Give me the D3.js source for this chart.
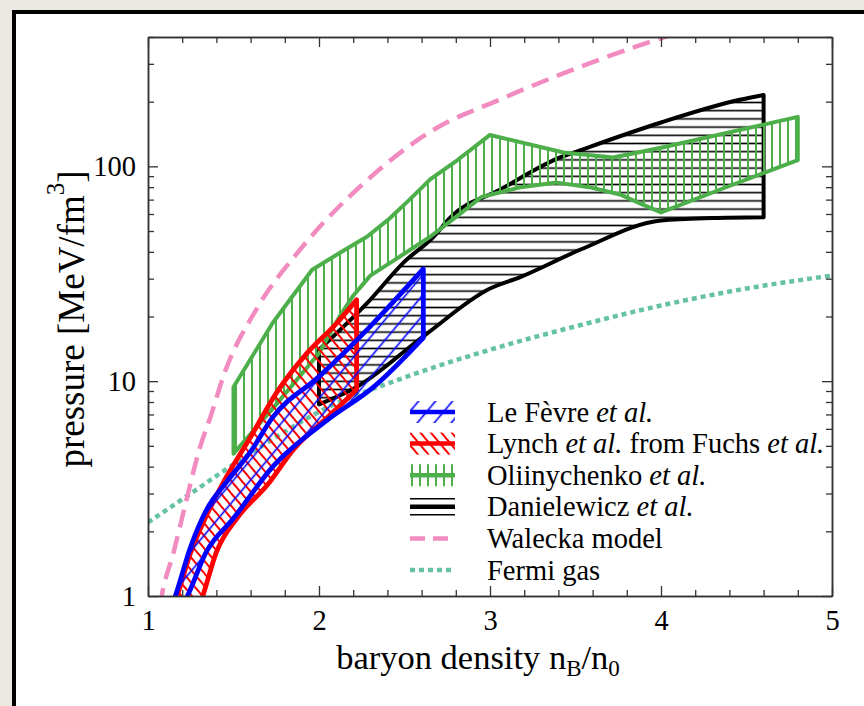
<!DOCTYPE html>
<html>
<head>
<meta charset="utf-8">
<script src="https://cdn.jsdelivr.net/npm/d3@7"></script>
<style>
  html, body { margin: 0; padding: 0; background: #ece8e1; }
  svg { display: block; }
  text { font-family: "Liberation Serif", "Times New Roman", serif; fill: #000; }
</style>
</head>
<body>
<div class="canvas"></div>
<script>
// ---- data: [n_B/n_0, pressure MeV/fm^3] ----
const leFevreUpper = [[1.14, 0.9], [1.16, 1], [1.25, 1.7], [1.34, 2.5], [1.46, 3.4], [1.6, 4.7], [1.73, 6.8], [2.0, 10.5], [2.3, 18], [2.61, 33.3]];
const leFevreLower = [[1.2, 0.9], [1.23, 1], [1.34, 1.6], [1.5, 2.3], [1.73, 4.0], [2.05, 6.6], [2.32, 9.4], [2.61, 15.9]];

const lynchUpper = [[1.15, 0.9], [1.17, 1], [1.25, 1.6], [1.34, 2.35], [1.46, 3.6], [1.6, 5.5], [1.75, 8.8], [1.93, 13.5], [2.1, 18.5], [2.22, 23.9]];
const lynchLower = [[1.3, 0.9], [1.32, 1], [1.4, 1.6], [1.52, 2.3], [1.7, 3.3], [1.85, 4.8], [2.05, 6.8], [2.22, 9.1]];

const oliinUpper = [[1.5, 9.4], [1.73, 18.7], [1.96, 33], [2.12, 39.5], [2.28, 47], [2.4, 56], [2.53, 70], [2.65, 87], [2.81, 107], [3.0, 140], [3.43, 116], [3.72, 110], [4.0, 122], [4.8, 170]];
const oliinLower = [[1.5, 4.6], [1.75, 7.8], [2.0, 13.5], [2.12, 20], [2.2, 25], [2.3, 31], [2.45, 37], [2.65, 47], [2.8, 58], [2.95, 72], [3.18, 80], [3.39, 84], [3.58, 80], [3.76, 74], [3.88, 67], [4.0, 61], [4.4, 81], [4.8, 107]];

const danUpper = [[2.0, 14], [2.28, 23], [2.5, 36], [2.67, 47], [2.77, 58], [3.06, 78], [3.41, 110], [3.53, 119], [4.0, 160], [4.46, 204], [4.6, 215]];
const danLower = [[2.0, 7.8], [2.22, 9.4], [2.62, 16.4], [3.0, 27], [3.18, 30.6], [3.53, 41], [4.0, 56], [4.3, 57.5], [4.6, 58]];

const walecka = [[1.07, 0.9], [1.08, 1], [1.15, 1.6], [1.22, 2.7], [1.3, 4.8], [1.37, 7.0], [1.44, 10.5], [1.64, 22], [1.89, 41], [2.28, 86], [2.67, 148], [3.06, 205], [3.64, 314], [4.02, 400], [4.1, 420]];
const fermiGas = [[1.0, 2.2], [1.25, 3.0], [1.5, 4.1], [1.75, 5.5], [2.0, 7.2], [2.5, 10.4], [3.0, 14], [3.5, 18], [4.0, 22.5], [4.5, 27], [5.0, 31]];

const xTicks = [1, 2, 3, 4, 5];
const xMinor = [1.2, 1.4, 1.6, 1.8, 2.2, 2.4, 2.6, 2.8, 3.2, 3.4, 3.6, 3.8, 4.2, 4.4, 4.6, 4.8];
const yTicks = [1, 10, 100];
const yMinor = [2, 3, 4, 5, 6, 7, 8, 9, 20, 30, 40, 50, 60, 70, 80, 90, 200, 300, 400];

const legendLabels = [
  ["Le Fèvre ", "et al."],
  ["Lynch ", "et al.", " from Fuchs ", "et al."],
  ["Oliinychenko ", "et al."],
  ["Danielewicz ", "et al."],
  ["Walecka model"],
  ["Fermi gas"],
];

const W = 864, H = 706;
const plot = { left: 148, right: 832, top: 37, bottom: 596 };

const svg = d3.select(".canvas").append("svg").attr("width", W).attr("height", H);

// photo-frame style background
svg.append("rect").attr("width", W).attr("height", H).attr("fill", "#ece9e3");
svg.append("rect").attr("x", 14).attr("y", 12).attr("width", W + 20).attr("height", H + 20)
  .attr("fill", "#fff").attr("stroke", "#000").attr("stroke-width", 4);

const x = d3.scaleLinear().domain([1, 5]).range([plot.left, plot.right]);
const y = d3.scaleLog().domain([1, 400]).range([plot.bottom, plot.top]);

const defs = svg.append("defs");
defs.append("clipPath").attr("id", "plotClip").append("rect")
  .attr("x", plot.left).attr("y", plot.top)
  .attr("width", plot.right - plot.left).attr("height", plot.bottom - plot.top);

// hatch patterns
function hatch(id, color, gap, angle, width) {
  const p = defs.append("pattern").attr("id", id)
    .attr("patternUnits", "userSpaceOnUse")
    .attr("width", gap).attr("height", gap)
    .attr("patternTransform", `rotate(${angle})`);
  p.append("line").attr("x1", gap / 2).attr("y1", 0).attr("x2", gap / 2).attr("y2", gap)
    .attr("stroke", color).attr("stroke-width", width);
}
hatch("hBlack", "#000", 8.2, 90, 1.6);
hatch("hGreen", "#4daf4a", 8, 0, 2);
hatch("hRed", "#ff0000", 8, -40, 2);
hatch("hBlue", "#0000ff", 13, 40, 1.6);

const line = d3.line().x(d => x(d[0])).y(d => y(d[1]));
const smooth = d3.line().x(d => x(d[0])).y(d => y(d[1])).curve(d3.curveMonotoneX);

const graph = svg.append("g").attr("clip-path", "url(#plotClip)");

function band(upper, lower, color, pattern, gen, sw) {
  const path = gen(upper) + "L" + gen(lower.slice().reverse()).slice(1) + "Z";
  graph.append("path").attr("d", path).attr("fill", `url(#${pattern})`).attr("stroke", "none");
  graph.append("path").attr("d", path).attr("fill", "none")
    .attr("stroke", color).attr("stroke-width", sw).attr("stroke-linejoin", "round");
}

// Fermi gas under the bands
graph.append("path").datum(fermiGas).attr("d", smooth)
  .attr("fill", "none").attr("stroke", "#66c2a5").attr("stroke-width", 4.5)
  .attr("stroke-dasharray", "5,4");

band(danUpper, danLower, "#000", "hBlack", smooth, 4);
band(oliinUpper, oliinLower, "#4daf4a", "hGreen", line, 4);
band(lynchUpper, lynchLower, "#ff0000", "hRed", smooth, 4.8);
band(leFevreUpper, leFevreLower, "#0000ff", "hBlue", smooth, 4.8);

graph.append("path").datum(walecka).attr("d", smooth)
  .attr("fill", "none").attr("stroke", "#f28cc0").attr("stroke-width", 4.5)
  .attr("stroke-dasharray", "18,9");

// axes, ticks inward on all sides
const axisColor = "#333";
function styleAxis(g) {
  g.select(".domain").attr("stroke", axisColor).attr("stroke-width", 1.5);
  g.selectAll(".tick line").attr("stroke", axisColor).attr("stroke-width", 1.3);
  g.selectAll("text").attr("font-size", 28.5).attr("font-family", "Liberation Serif").attr("fill", "#000");
}

svg.append("g").attr("transform", `translate(0,${plot.bottom})`)
  .call(d3.axisBottom(x).tickValues(xMinor).tickSize(-6).tickSizeOuter(0).tickFormat(""))
  .call(styleAxis);
svg.append("g").attr("transform", `translate(0,${plot.bottom})`)
  .call(d3.axisBottom(x).tickValues(xTicks).tickSize(-10).tickSizeOuter(0).tickPadding(14).tickFormat(d3.format("d")))
  .call(styleAxis);
svg.append("g").attr("transform", `translate(0,${plot.top})`)
  .call(d3.axisTop(x).tickValues(xMinor).tickSize(-6).tickSizeOuter(0).tickFormat(""))
  .call(styleAxis);
svg.append("g").attr("transform", `translate(0,${plot.top})`)
  .call(d3.axisTop(x).tickValues(xTicks).tickSize(-10).tickSizeOuter(0).tickFormat(""))
  .call(styleAxis);

svg.append("g").attr("transform", `translate(${plot.left},0)`)
  .call(d3.axisLeft(y).tickValues(yMinor).tickSize(-6).tickSizeOuter(0).tickFormat(""))
  .call(styleAxis);
svg.append("g").attr("transform", `translate(${plot.left},0)`)
  .call(d3.axisLeft(y).tickValues(yTicks).tickSize(-10).tickSizeOuter(0).tickPadding(12).tickFormat(d3.format("d")))
  .call(styleAxis);
svg.append("g").attr("transform", `translate(${plot.right},0)`)
  .call(d3.axisRight(y).tickValues(yMinor).tickSize(-6).tickSizeOuter(0).tickFormat(""))
  .call(styleAxis);
svg.append("g").attr("transform", `translate(${plot.right},0)`)
  .call(d3.axisRight(y).tickValues(yTicks).tickSize(-10).tickSizeOuter(0).tickFormat(""))
  .call(styleAxis);

// axis titles
const xt = svg.append("text").attr("x", 478).attr("y", 669)
  .attr("text-anchor", "middle").attr("font-size", 34.5);
xt.append("tspan").text("baryon density n");
xt.append("tspan").attr("font-size", 23).attr("dy", 7).text("B");
xt.append("tspan").attr("dy", -7).text("/n");
xt.append("tspan").attr("font-size", 23).attr("dy", 7).text("0");

const yt = svg.append("text").attr("transform", `translate(84,319) rotate(-90)`)
  .attr("text-anchor", "middle").attr("font-size", 37);
yt.append("tspan").text("pressure [MeV/fm");
yt.append("tspan").attr("font-size", 25).attr("dy", -20).text("3");
yt.append("tspan").attr("dy", 20).text("]");

// legend
const legend = svg.append("g");
const rowY = d => 412 + d * 31.6;
const symX0 = 410, symX1 = 455;

function legendBox(i, pattern, color, kind) {
  const cy = rowY(i);
  if (pattern) {
    legend.append("rect").attr("x", symX0).attr("y", cy - 11).attr("width", symX1 - symX0).attr("height", 22)
      .attr("fill", `url(#${pattern})`);
  }
  legend.append("line").attr("x1", symX0).attr("x2", symX1).attr("y1", cy).attr("y2", cy)
    .attr("stroke", color).attr("stroke-width", 4.5)
    .attr("stroke-dasharray", kind === "dash" ? "15,8" : kind === "dot" ? "5,4" : null);
}
legendBox(0, "hBlue", "#0000ff");
legendBox(1, "hRed", "#ff0000");
legendBox(2, "hGreen", "#4daf4a");
// Danielewicz: three horizontal lines
[[-8, 1.6], [0, 4.5], [8, 1.6]].forEach(([dy, sw]) => {
  legend.append("line").attr("x1", symX0).attr("x2", symX1)
    .attr("y1", rowY(3) + dy).attr("y2", rowY(3) + dy)
    .attr("stroke", "#000").attr("stroke-width", sw);
});
legendBox(4, null, "#f28cc0", "dash");
legendBox(5, null, "#66c2a5", "dot");

legendLabels.forEach((parts, i) => {
  const t = legend.append("text").attr("x", 487).attr("y", rowY(i) + 9.5).attr("font-size", 28.5);
  parts.forEach(s => {
    t.append("tspan").attr("font-style", s.trim() === "et al." ? "italic" : null).text(s);
  });
});
</script>
</body>
</html>
